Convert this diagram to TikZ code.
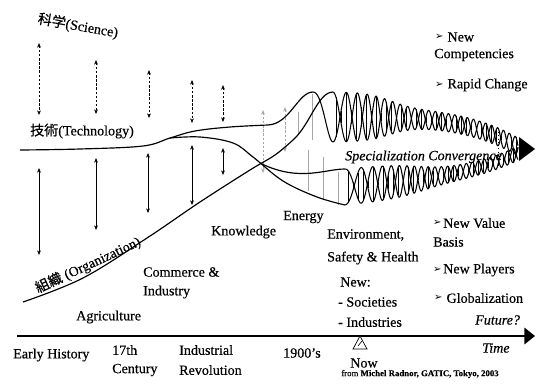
\documentclass[tikz,border=0pt]{standalone}
\usepackage{fontspec}
\setmainfont[FakeBold=0.4]{Liberation Serif}
\newfontfamily\cjkfont[FakeBold=0.4]{Noto Sans CJK JP}
\newfontfamily\dingfont{DejaVu Sans}
\usepackage{tikz}
\usetikzlibrary{calc, positioning, arrows.meta}

\newcommand{\listtip}{{\dingfont\fontsize{8.5}{8.5}\selectfont ➢}}

\tikzset{
  lbl/.style={inner sep=0pt, anchor=west, font=\fontsize{12}{14}\selectfont},
  slanted/.style={lbl, font=\fontsize{12}{14}\selectfont\itshape},
  source/.style={inner sep=0pt, font=\fontsize{7.5}{9}\selectfont},
  sciarrow/.style={{Stealth[length=4pt,width=3.2pt]}-{Stealth[length=4pt,width=3.2pt]}, dash pattern=on 2pt off 1.5pt, line width=0.6pt},
  orgarrow/.style={{Stealth[length=4pt,width=3.2pt]}-{Stealth[length=4pt,width=3.2pt]}, line width=0.6pt},
  faintarrow/.style={{Stealth[length=4pt,width=3.2pt,open]}-{Stealth[length=4pt,width=3.2pt,open]}, dash pattern=on 2pt off 1.5pt, gray!70, line width=0.5pt},
  spoke/.style={gray!70, line width=0.5pt},
  curve/.style={line width=1pt},
  wave/.style={line width=0.9pt},
  rung/.style={line width=0.5pt},
  timeline/.style={line width=1.6pt, -{Triangle[length=9pt,width=14pt]}},
  declare function={
    cu(\x)=117+23*((\x-313)/192)*((\x-313)/192)*((\x-313)/192)*((\x-313)/192);
    au(\x)=9+16*exp(-(\x-390)/12)/(1+exp(-(\x-390)/12));
    pu(\x)=33*(\x-313)-2170*(1-exp(-(\x-313)/80));
    cl(\x)=187-0.1*(\x-345)-12*((\x-345)/160)*((\x-345)/160)*((\x-345)/160)*((\x-345)/160);
    al(\x)=7+11*exp(-(\x-420)/15)/(1+exp(-(\x-420)/15));
    ql(\x)=33*(\x-345)-1500*(1-exp(-(\x-345)/60));
  }
}

\begin{document}
\begin{tikzpicture}
      [x=0.03cm, y=-0.03cm]
      \useasboundingbox (0,0) rectangle (539,384);

      % nodes %
      \node[lbl, anchor=center, rotate=-10] (sci) at (78,26) {{\cjkfont 科学}(Science)};
      \node[lbl, anchor=center] (tech) at (82,131) {{\cjkfont 技術}(Technology)};
      \node[lbl, anchor=center, rotate=25] (org) at (88,265) {{\cjkfont 組織} (Organization)};

      \node[lbl] (agri) at (76,317) {Agriculture};
      \node[lbl] (commerce) at (143,272) {Commerce \&};
      \node[lbl] (industry) at (143,292) {Industry};
      \node[lbl] (know) at (211,232) {Knowledge};
      \node[lbl] (energy) at (283,217) {Energy};
      \node[lbl] (env) at (327,235) {Environment,};
      \node[lbl] (safety) at (327,258) {Safety \& Health};
      \node[lbl] (newsoc) at (340,282) {New:};
      \node[lbl] (soc) at (338,302) {- Societies};
      \node[lbl] (ind) at (338,322) {- Industries};

      \node[lbl] (tipnew) at (435,37) {\listtip};
      \node[lbl, right=3pt of tipnew] (new) {New};
      \node[lbl] (comp) at (434,55) {Competencies};
      \node[lbl] (tiprapid) at (435,85) {\listtip};
      \node[lbl, right=3pt of tiprapid] (rapid) {Rapid Change};
      \node[lbl] (tipvalue) at (433,223) {\listtip};
      \node[lbl, right=1pt of tipvalue] (value) {New Value};
      \node[lbl] (basis) at (433,242) {Basis};
      \node[lbl] (tipplayers) at (433,270) {\listtip};
      \node[lbl, right=1pt of tipplayers] (players) {New Players};
      \node[lbl] (tipglobal) at (434,298) {\listtip};
      \node[lbl, right=3pt of tipglobal] (global) {Globalization};
      \node[slanted] (future) at (475,320) {Future?};

      \node[slanted] (spec) at (345,157) {Specialization};
      \node[slanted] (conv) at (428,157) {Convergence};

      \node[lbl] (early) at (13,355) {Early History};
      \node[lbl] (seventeen) at (112,350) {17th};
      \node[lbl] (century) at (112,370) {Century};
      \node[lbl] (indus) at (179,350) {Industrial};
      \node[lbl] (revol) at (179,370) {Revolution};
      \node[lbl] (nineteen) at (283,353) {1900's};
      \node[lbl, anchor=center] (now) at (364,363) {Now};
      \node[slanted] (time) at (482,348) {Time};
      \node[source] (credit) at (420,374) {from \textbf{Michel Radnor, GATIC, Tokyo, 2003}};

      \coordinate (t0) at (17,336);
      \coordinate (t1) at (535,336);
      \coordinate (dotA) at (498,132);
      \coordinate (dotB) at (498,168);

      % arrows between the levels %
      \foreach \xa/\ya/\yb in {39/43/115, 96/60/114, 149/70/118, 192/80/123, 223/85/122}
        \draw[sciarrow] (\xa,\ya) -- (\xa,\yb);
      \foreach \xa/\ya/\yb in {39/168/255, 96/158/230, 148/153/213, 192/145/205, 223/148/175}
        \draw[orgarrow] (\xa,\ya) -- (\xa,\yb);
      \foreach \xa/\ya/\yb in {263/110/173, 285/107/152}
        \draw[faintarrow] (\xa,\ya) -- (\xa,\yb);
      \foreach \xa/\ya/\yb in {298/112/135, 312/94/140, 308/150/191, 323/157/199, 338/172/205}
        \draw[spoke] (\xa,\ya) -- (\xa,\yb);

      % curves %
      \draw[curve] plot[smooth, tension=0.6] coordinates {(20,150) (80,149) (143,146) (170,138) (195,131) (230,127) (268,125)}
        .. controls (290,124) and (298,92) .. (313,92);
      \draw[curve] plot[smooth, tension=0.6] coordinates {(170,138) (200,137) (233,143) (253,157) (283,181) (317,197) (345,205)};
      \draw[curve] plot[smooth, tension=0.6] coordinates {(23,302) (83,278) (147,238) (200,202) (250,170) (275,155) (293,140)}
        .. controls (310,125) and (318,92) .. (333,92);
      \draw[curve] (262,164) .. controls (300,182) and (325,169) .. (345,169);

      % waves %
      \draw[wave] plot[domain=313:518, samples=420] (\x, {cu(\x)-au(\x)*cos(pu(\x))});
      \draw[wave] plot[domain=333:518, samples=380] (\x, {cu(\x)+au(\x)*cos(pu(\x))});
      \draw[wave] plot[domain=345:518, samples=350] (\x, {cl(\x)+al(\x)*cos(ql(\x))});
      \draw[wave] plot[domain=345:518, samples=350] (\x, {cl(\x)-al(\x)*cos(ql(\x))});
      \foreach \xr in {336,341,...,516}
        \draw[rung] (\xr, {cu(\xr)-au(\xr)*cos(pu(\xr))}) -- (\xr, {cu(\xr)+au(\xr)*cos(pu(\xr))});
      \foreach \xr in {348,353,...,516}
        \draw[rung] (\xr, {cl(\xr)-al(\xr)*cos(ql(\xr))}) -- (\xr, {cl(\xr)+al(\xr)*cos(ql(\xr))});
      \draw[dotted, line width=0.8pt] (dotA) -- (dotB);
      \fill (519,137) -- (535,149) -- (519,161) -- cycle;

      % time axis %
      \draw[timeline] (t0) -- (t1);
      \draw[line width=0.6pt, fill=white] (360,336) -- (367,349) -- (353,349) -- cycle;
      \draw[line width=0.5pt] (358,346) -- (362,341);
\end{tikzpicture}
\end{document}
